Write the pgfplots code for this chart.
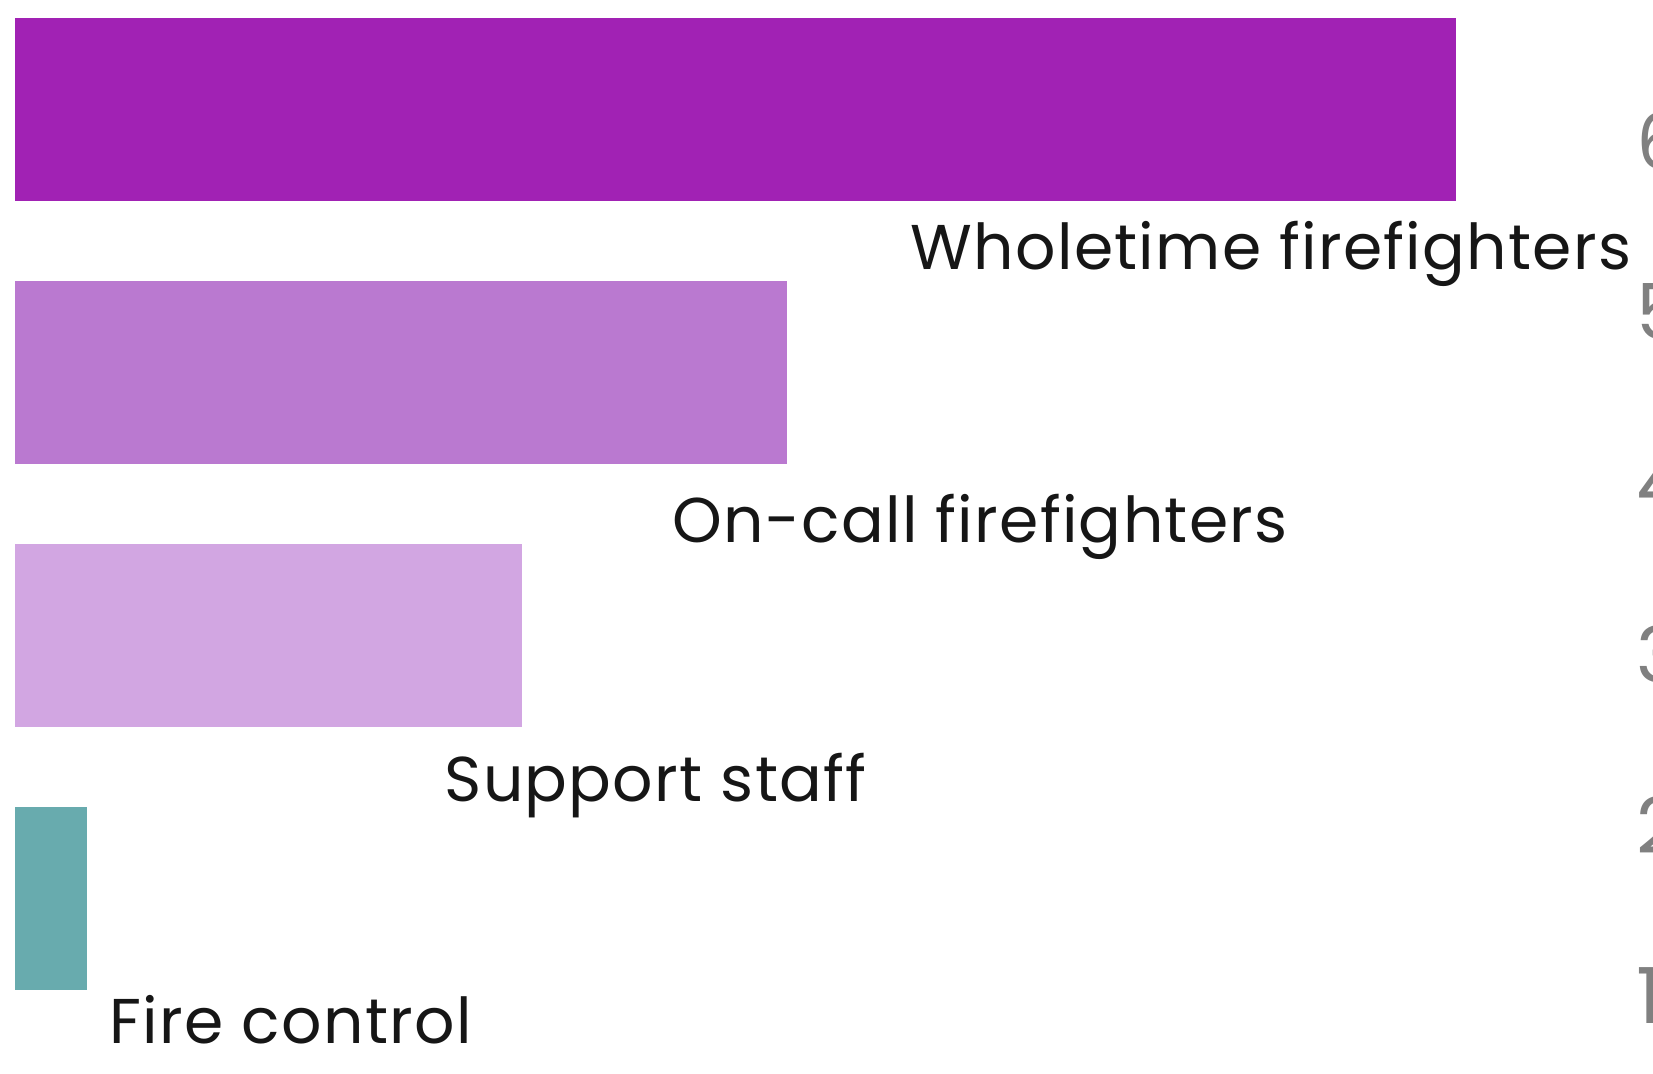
\documentclass[border=0pt]{standalone}
\usepackage{pgfplots}
\pgfplotsset{compat=1.18}
\usepackage{fontspec}
\setmainfont{Poppins}
\newfontfamily\labelfont[LetterSpace=2]{Poppins}
\definecolor{wholetime}{HTML}{A122B4}
\definecolor{oncall}{HTML}{BA79D0}
\definecolor{support}{HTML}{D2A6E2}
\definecolor{control}{HTML}{68ABAE}
\definecolor{labeltext}{HTML}{161616}
\definecolor{nextaxis}{HTML}{808080}
\begin{document}
\begin{tikzpicture}
\begin{axis}[
    at={(1.5mm,4.36mm)}, anchor=south west,
    scale only axis,
    width=144.1mm,
    height=105.08mm,
    xmin=0, xmax=32000,
    ymin=-0.5, ymax=3.5,
    hide axis,
    xbar,
    bar width=18.3mm,
]
\addplot[fill=wholetime, draw=none, bar shift=0pt] coordinates {(32000,3)}; % Wholetime firefighters
\addplot[fill=oncall, draw=none, bar shift=0pt] coordinates {(17140,2)};    % On-call firefighters
\addplot[fill=support, draw=none, bar shift=0pt] coordinates {(11260,1)};   % Support staff
\addplot[fill=control, draw=none, bar shift=0pt] coordinates {(1600,0)};    % Fire control
\end{axis}
% category labels
\begin{scope}[every node/.style={anchor=base west, inner sep=0pt, text=labeltext, font=\labelfont\fontsize{18}{20}\selectfont}]
\node at (91.0mm,80.3mm) {Wholetime firefighters};
\node at (67.2mm,53.0mm) {On-call firefighters};
\node at (44.4mm,27.1mm) {Support staff};
\node at (10.9mm,3.0mm) {Fire control};
\end{scope}
% tick labels of the neighbouring chart, cut by the page edge
\begin{scope}[every node/.style={anchor=west, inner sep=0pt, text=nextaxis, font=\fontsize{22}{24}\selectfont}]
\node at (163.6mm,93.2mm) {6};
\node at (163.6mm,76.1mm) {5};
\node at (163.6mm,59.0mm) {4};
\node at (163.6mm,41.9mm) {3};
\node at (163.6mm,24.8mm) {2};
\node at (163.6mm,7.7mm) {1};
\end{scope}
\pgfresetboundingbox
\useasboundingbox (0,0) rectangle (165.3mm,107.3mm);
\end{tikzpicture}
\end{document}
